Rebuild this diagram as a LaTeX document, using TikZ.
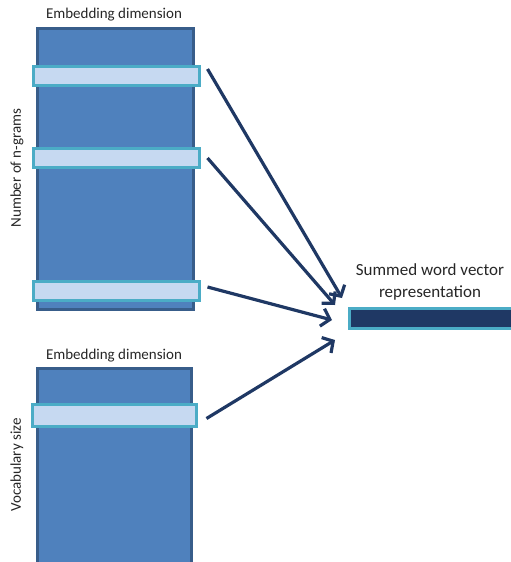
\documentclass[tikz,border=0pt]{standalone}
\usepackage{fontspec}
\setmainfont{Carlito}
\usepackage{tikz}
\usetikzlibrary{arrows.meta,positioning}
\definecolor{matfill}{RGB}{79,129,189}
\definecolor{matedge}{RGB}{56,93,138}
\definecolor{rowfill}{RGB}{198,217,241}
\definecolor{rowedge}{RGB}{75,172,198}
\definecolor{navy}{RGB}{31,56,100}
\tikzset{matbox/.style={draw=matedge, fill=matfill, line width=3pt},
  rowbox/.style={draw=rowedge, fill=rowfill, line width=3pt, rectangle, inner sep=0pt},
  sumarrow/.style={navy, line width=3.2pt, -{Straight Barb[length=8pt,width=18pt,line width=3.2pt]}},
  lbl/.style={font=\fontsize{15}{17}\selectfont, text=black!85, inner sep=0pt},
  biglbl/.style={font=\fontsize{17}{20}\selectfont, text=black!85, inner sep=0pt}}

\begin{document}
\begin{tikzpicture}[x=1pt, y=-1pt, line join=miter]
  \useasboundingbox (0,0) rectangle (511,562);
  % n-gram embedding matrix
  \draw [matbox] (37,28) rectangle (193,309);
  \node [lbl] (ngdim) at (114,15) {Embedding dimension};
  \node [lbl, rotate=90] (ngrams) at (17,168) {Number of n-grams};
  \node [rowbox, minimum width=166pt, minimum height=19pt] (row1) at (116,76) {};
  \node [rowbox, minimum width=166pt, minimum height=19pt] (row2) at (116,158) {};
  \node [rowbox, minimum width=166pt, minimum height=19pt] (row3) at (116,291) {};
  % vocabulary embedding matrix
  \draw [matbox] (37,368) rectangle (191,570);
  \node [lbl] (vocdim) at (114,356) {Embedding dimension};
  \node [lbl, rotate=90] (vocab) at (17,465) {Vocabulary size};
  \node [rowbox, minimum width=164pt, minimum height=22pt] (row4) at (114,415.5) {};
  % summed vector
  \draw [draw=rowedge, fill=navy, line width=3pt] (349,308) rectangle (520,328);
  \node [biglbl] (sumtxt) at (430,270) {Summed word vector};
  \node [biglbl] (reptxt) at (430,293) {representation};
  \coordinate (t1) at (342,298);
  \coordinate (t2) at (335,305);
  \coordinate (t3) at (332,320);
  \coordinate (t4) at (335,340);
  \draw [sumarrow] ([xshift=7pt,yshift=7pt]row1.east) -- (t1);
  \draw [sumarrow] ([xshift=7pt]row2.east) -- (t2);
  \draw [sumarrow] ([xshift=7pt,yshift=4pt]row3.east) -- (t3);
  \draw [sumarrow] ([xshift=9pt,yshift=-3pt]row4.east) -- (t4);
\end{tikzpicture}
\end{document}
